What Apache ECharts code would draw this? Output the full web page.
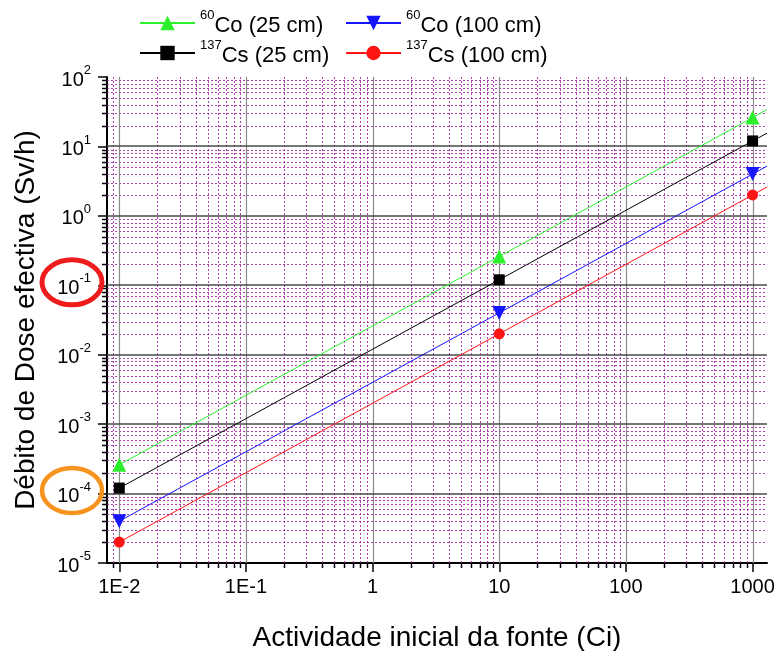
<!DOCTYPE html>
<html>
<head>
<meta charset="utf-8">
<script src="https://cdn.jsdelivr.net/npm/echarts@6/dist/echarts.min.js"></script>
<style>
  html, body { margin: 0; padding: 0; background: #fff; }
  #chart { width: 775px; height: 651px; }
</style>
</head>
<body>
<div id="chart"></div>
<script>
// Source activity (Ci); the last entry is where the fitted lines leave the plot
const activity = [0.01, 10, 1000, 1300];
// Effective dose rate (Sv/h)
const co60At25 = [2.6e-4, 0.26, 26, 34];
const co60At100 = [4e-5, 0.04, 4, 5.2];
const cs137At25 = [1.2e-4, 0.12, 12, 15.5];
const cs137At100 = [2e-5, 0.02, 2, 2.6];

const seriesNames = ['60Co (25 cm)', '60Co (100 cm)', '137Cs (25 cm)', '137Cs (100 cm)'];
const xTickValues = [0.01, 0.1, 1, 10, 100, 1000];
const xTickLabels = ['1E-2', '1E-1', '1', '10', '100', '1000'];
const yTickExponents = [-5, -4, -3, -2, -1, 0, 1, 2];
const circledExponents = [-1, -4];

const X_MIN = 0.008, X_MAX = 1300, Y_MIN = 1e-5, Y_MAX = 100;
const FONT = '"Liberation Sans", Arial, sans-serif';

const yTickValues = yTickExponents.map(e => Math.pow(10, e));

// minor (2..9) values of each decade inside a range
function minorValues(lo, hi) {
  const out = [];
  for (let e = Math.floor(Math.log10(lo)) - 1; e <= Math.ceil(Math.log10(hi)); e++) {
    for (let m = 2; m <= 9; m++) {
      const v = m * Math.pow(10, e);
      if (v > lo * 1.0001 && v < hi * 0.9999) out.push(v);
    }
  }
  return out;
}
const xMinor = minorValues(X_MIN, X_MAX);
const yMinor = minorValues(Y_MIN, Y_MAX);

function pointsOf(values) {
  return activity.map((x, i) => {
    const item = { value: [x, values[i]] };
    if (i === activity.length - 1) item.symbol = 'none';
    return item;
  });
}

// grid lines and minor ticks, positioned through the axes' own scales
function renderFrame(params, api) {
  const children = [];
  const bl = api.coord([X_MIN, Y_MIN]);
  const tr = api.coord([X_MAX, Y_MAX]);
  const left = bl[0], bottom = bl[1], right = tr[0], top = tr[1];
  const minorStyle = { stroke: '#a020a0', lineWidth: 1, lineDash: [2, 2], opacity: 0.85 };
  xMinor.forEach(v => {
    const x = Math.round(api.coord([v, Y_MIN])[0]) + 0.5;
    children.push({ type: 'line', shape: { x1: x, y1: top, x2: x, y2: bottom }, style: minorStyle });
    children.push({ type: 'line', shape: { x1: x, y1: bottom, x2: x, y2: bottom + 5 }, style: { stroke: '#000', lineWidth: 1.5 } });
  });
  yMinor.forEach(v => {
    const y = Math.round(api.coord([X_MIN, v])[1]) + 0.5;
    children.push({ type: 'line', shape: { x1: left, y1: y, x2: right, y2: y }, style: minorStyle });
    children.push({ type: 'line', shape: { x1: left - 5, y1: y, x2: left, y2: y }, style: { stroke: '#000', lineWidth: 1.5 } });
  });
  xTickValues.forEach(v => {
    const x = Math.round(api.coord([v, Y_MIN])[0]) + 0.5;
    children.push({ type: 'line', shape: { x1: x, y1: top, x2: x, y2: bottom }, style: { stroke: '#8c8c8c', lineWidth: 1.2 } });
  });
  yTickValues.forEach(v => {
    const y = Math.round(api.coord([X_MIN, v])[1]);
    if (v >= Y_MAX || v <= Y_MIN) return;
    children.push({ type: 'line', shape: { x1: left, y1: y, x2: right, y2: y }, style: { stroke: '#4a4a4a', lineWidth: 1.7 } });
  });
  return { type: 'group', children: children };
}

const chart = echarts.init(document.getElementById('chart'), null, { renderer: 'canvas' });

const colors = ['#2cf02c', '#1414ff', '#000000', '#ff1414'];
const symbols = ['triangle', 'triangle', 'rect', 'circle'];
const rotations = [0, 180, 0, 0];
const sizes = [14, 14, 11, 11];
const dataSets = [co60At25, co60At100, cs137At25, cs137At100];

const lineSeries = dataSets.map((vals, i) => ({
  name: seriesNames[i],
  type: 'line',
  data: pointsOf(vals),
  symbol: symbols[i],
  symbolRotate: rotations[i],
  symbolSize: sizes[i],
  showAllSymbol: true,
  clip: true,
  z: 5,
  itemStyle: { color: colors[i] },
  lineStyle: { color: colors[i], width: 1 },
  emphasis: { disabled: true }
}));

const legendRich = {
  s: { fontSize: 13, fontFamily: FONT, color: '#000', verticalAlign: 'top', lineHeight: 14 },
  b: { fontSize: 22, fontFamily: FONT, color: '#000', verticalAlign: 'bottom', lineHeight: 28 }
};
function legendAt(name, left, top) {
  return {
    data: [name],
    left: left,
    top: top,
    padding: 0,
    itemWidth: 55,
    itemHeight: 18,
    itemGap: 6,
    selectedMode: false,
    formatter: n => n.replace(/^(\d+)(.*)$/, '{s|$1}{b|$2}'),
    textStyle: { rich: legendRich }
  };
}

const option = {
  animation: false,
  backgroundColor: '#fff',
  grid: { left: 107, right: 8, top: 77, bottom: 88, containLabel: false, outerBoundsMode: 'none' },
  legend: [
    legendAt(seriesNames[0], 139, 9),
    legendAt(seriesNames[1], 345, 9),
    legendAt(seriesNames[2], 139, 39),
    legendAt(seriesNames[3], 345, 39)
  ],
  xAxis: {
    type: 'log',
    logBase: 10,
    min: X_MIN,
    max: X_MAX,
    name: 'Actividade inicial da fonte (Ci)',
    nameLocation: 'middle',
    nameGap: 61,
    nameTextStyle: { fontSize: 28, fontFamily: FONT, color: '#000' },
    axisLine: { show: true, onZero: false, lineStyle: { color: '#000', width: 2 } },
    axisTick: { show: true, inside: false, length: 9, customValues: xTickValues, lineStyle: { color: '#000', width: 1.5 } },
    axisLabel: {
      customValues: xTickValues,
      margin: 14,
      fontSize: 20,
      fontFamily: FONT,
      color: '#000',
      formatter: v => xTickLabels[xTickValues.findIndex(t => Math.abs(Math.log10(t) - Math.log10(v)) < 1e-6)] || ''
    },
    splitLine: { show: false },
    minorTick: { show: false },
    minorSplitLine: { show: false }
  },
  yAxis: {
    type: 'log',
    logBase: 10,
    min: Y_MIN,
    max: Y_MAX,
    name: 'Débito de Dose efectiva (Sv/h)',
    nameLocation: 'middle',
    nameGap: 67,
    nameTextStyle: { fontSize: 28, fontFamily: FONT, color: '#000' },
    axisLine: { show: true, onZero: false, lineStyle: { color: '#000', width: 2 } },
    axisTick: { show: true, inside: false, length: 9, customValues: yTickValues, lineStyle: { color: '#000', width: 1.5 } },
    axisLabel: {
      customValues: yTickValues,
      margin: 16,
      formatter: v => '{b|10}{s|' + Math.round(Math.log10(v)) + '}',
      rich: {
        b: { fontSize: 20, fontFamily: FONT, color: '#000', verticalAlign: 'bottom', lineHeight: 26 },
        s: { fontSize: 13, fontFamily: FONT, color: '#000', verticalAlign: 'top', lineHeight: 14 }
      }
    },
    splitLine: { show: false },
    minorTick: { show: false },
    minorSplitLine: { show: false }
  },
  series: [{
    type: 'custom',
    silent: true,
    clip: false,
    z: 1,
    data: [[X_MIN, Y_MIN]],
    renderItem: renderFrame
  }].concat(lineSeries)
};

chart.setOption(option);

// circled tick labels on the dose-rate axis
const axisX = chart.convertToPixel({ xAxisIndex: 0 }, X_MIN);
const ellipseColors = { '-1': '#ee1c1c', '-4': '#f7941d' };
const ellipseWidths = { '-1': 5, '-4': 4.5 };
chart.setOption({
  graphic: circledExponents.map(e => ({
    type: 'ellipse',
    silent: true,
    z: 50,
    shape: {
      cx: axisX - 35,
      cy: chart.convertToPixel({ yAxisIndex: 0 }, Math.pow(10, e)) - 3,
      rx: 30,
      ry: 22.5
    },
    style: { fill: 'none', stroke: ellipseColors[e], lineWidth: ellipseWidths[e] }
  }))
});
</script>
</body>
</html>
